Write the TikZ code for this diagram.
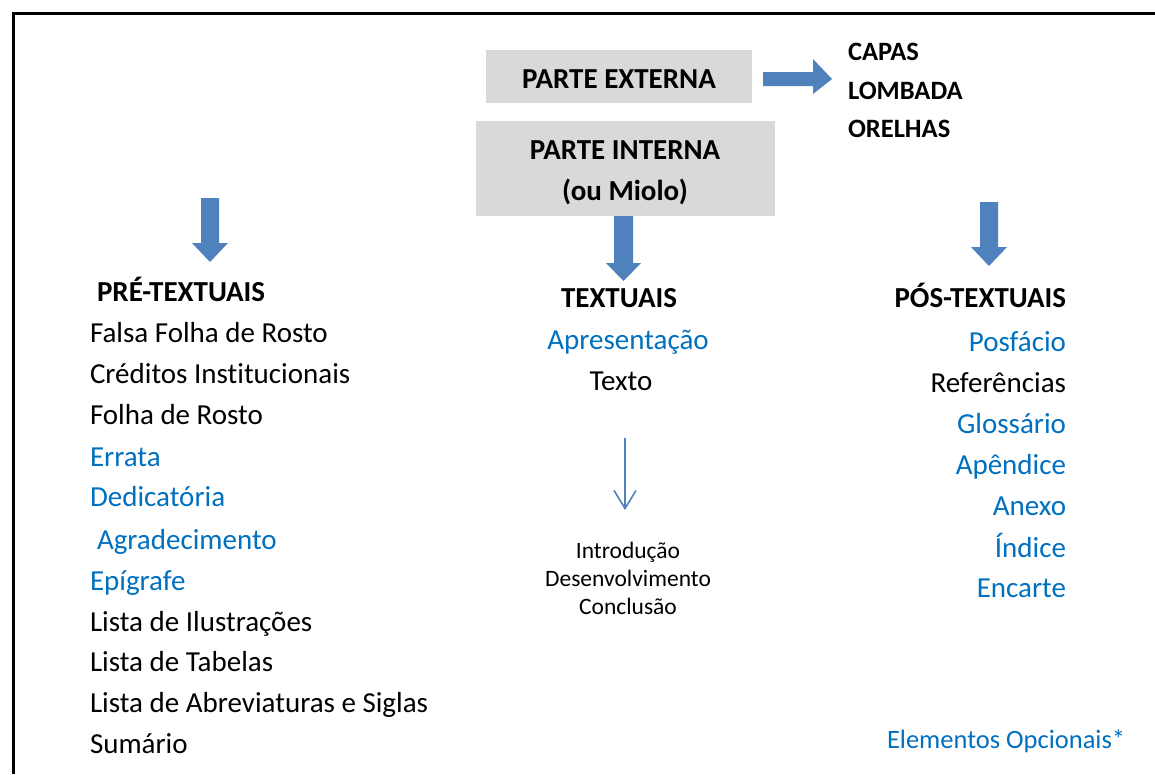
\documentclass[tikz,border=0pt]{standalone}
\usepackage{fontspec}
\setmainfont{Carlito}[Ligatures={NoCommon}]
\usetikzlibrary{arrows.meta}
\definecolor{arrblue}{HTML}{4F81BD}
\definecolor{txtblue}{HTML}{0070C0}
\definecolor{boxgray}{HTML}{D9D9D9}
\begin{document}
\begin{tikzpicture}[x=1pt,y=-1pt,
  every node/.style={inner sep=0pt,outer sep=0pt},
  hdr/.style={font=\fontsize{29}{33}\selectfont\bfseries},
  capstyle/.style={font=\fontsize{26.5}{30}\selectfont\bfseries},
  itm/.style={font=\fontsize{29}{33}\selectfont},
  sml/.style={font=\fontsize{23.5}{27}\selectfont},
  opt/.style={text=txtblue},
  grybox/.style={fill=boxgray},
  blk/.style={fill=arrblue}]
\useasboundingbox (0,0) rectangle (1155,774);
\fill[white] (0,0) rectangle (1155,774);
% frame
\draw[line width=3pt] (13.5,774) -- (13.5,13.5) -- (1155,13.5);
% gray boxes
\fill[grybox] (486,50) rectangle (752,103);
\node[hdr,anchor=base] (ext) at (619,88) {PARTE EXTERNA};
\fill[grybox] (476,121) rectangle (775,216);
\node[hdr,anchor=base] (int1) at (625,159) {PARTE INTERNA};
\node[hdr,anchor=base] (int2) at (625,200) {(ou Miolo)};
% right block arrow
\fill[blk] (763,72) -- (813,72) -- (813,59) -- (832,79) -- (813,94) -- (813,86) -- (763,86) -- cycle;
\node[capstyle,anchor=base west] (capas) at (848,60) {CAPAS};
\node[capstyle,anchor=base west] (lomb) at (848,99) {LOMBADA};
\node[capstyle,anchor=base west] (orel) at (848,137) {ORELHAS};
% down block arrows
\fill[blk] (201,198) -- (219,198) -- (219,243) -- (228,243) -- (210,262) -- (192,243) -- (201,243) -- cycle;
\fill[blk] (614,216) -- (633,216) -- (633,263) -- (641,263) -- (623.5,281) -- (606,263) -- (614,263) -- cycle;
\fill[blk] (980,202) -- (998,202) -- (998,247) -- (1007,247) -- (989,266) -- (971,247) -- (980,247) -- cycle;
% left column
\node[hdr,anchor=base west] (pre) at (97,301) {PRÉ-TEXTUAIS};
\node[itm,anchor=base west] (l1) at (90,342) {Falsa Folha de Rosto};
\node[itm,anchor=base west] (l2) at (90,383) {Créditos Institucionais};
\node[itm,anchor=base west] (l3) at (90,424) {Folha de Rosto};
\node[itm,opt,anchor=base west] (l4) at (90,466) {Errata};
\node[itm,opt,anchor=base west] (l5) at (90,506) {Dedicatória};
\node[itm,opt,anchor=base west] (l6) at (97,549) {Agradecimento};
\node[itm,opt,anchor=base west] (l7) at (90,590) {Epígrafe};
\node[itm,anchor=base west] (l8) at (90,631) {Lista de Ilustrações};
\node[itm,anchor=base west] (l9) at (90,671) {Lista de Tabelas};
\node[itm,anchor=base west] (l10) at (90,712) {Lista de Abreviaturas e Siglas};
\node[itm,anchor=base west] (l11) at (90,753) {Sumário};
% middle column
\node[hdr,anchor=base] (tex) at (619,307) {TEXTUAIS};
\node[itm,opt,anchor=base] (apr) at (628,349) {Apresentação};
\node[itm,anchor=base] (txt) at (621,390) {Texto};
\coordinate (ta) at (625,438);
\coordinate (tb) at (625,510);
\draw[arrblue,line width=1.6pt,-{Straight Barb[length=18pt,width=22pt,line width=1.6pt]}] (ta) -- (tb);
\node[sml,anchor=base] (intro) at (628,558) {Introdução};
\node[sml,anchor=base] (dev) at (628,586) {Desenvolvimento};
\node[sml,anchor=base] (conc) at (628,614) {Conclusão};
% right column
\node[hdr,anchor=base east] (pos) at (1066,307) {PÓS-TEXTUAIS};
\node[itm,opt,anchor=base east] (r1) at (1066,351) {Posfácio};
\node[itm,anchor=base east] (r2) at (1066,392) {Referências};
\node[itm,opt,anchor=base east] (r3) at (1066,433) {Glossário};
\node[itm,opt,anchor=base east] (r4) at (1066,474) {Apêndice};
\node[itm,opt,anchor=base east] (r5) at (1066,515) {Anexo};
\node[itm,opt,anchor=base east] (r6) at (1066,557) {Índice};
\node[itm,opt,anchor=base east] (r7) at (1066,597) {Encarte};
\node[opt,anchor=base west,font=\fontsize{26.5}{30}\selectfont] (eo) at (887,748) {Elementos Opcionais*};
\end{tikzpicture}
\end{document}
